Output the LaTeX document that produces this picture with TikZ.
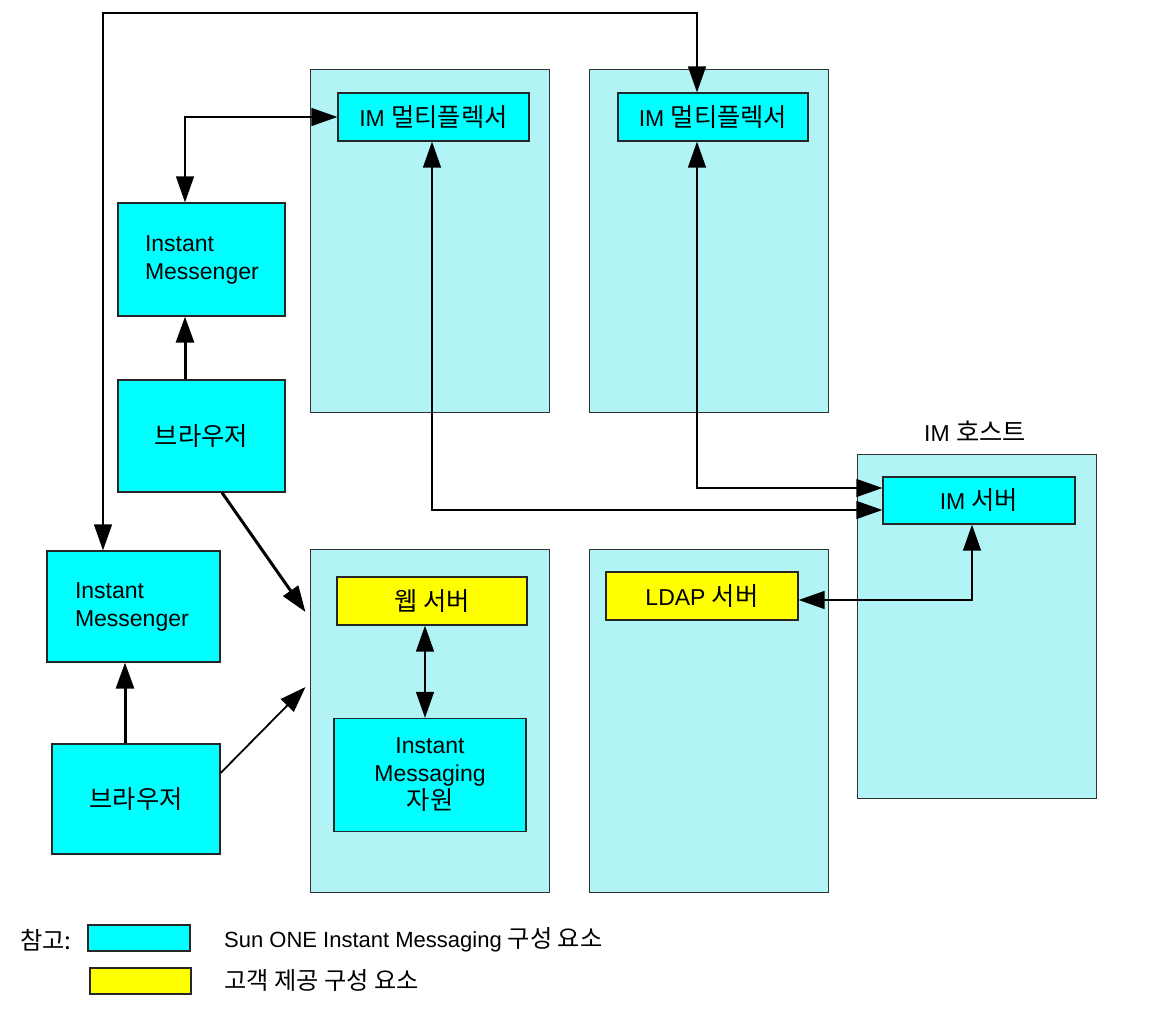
\documentclass[tikz,border=0pt]{standalone}
\usepackage{fontspec}
\setmainfont{Liberation Sans}
\newfontfamily\kr[Scale=1.1]{Noto Sans CJK KR}
\usetikzlibrary{arrows.meta}
\definecolor{contfill}{RGB}{178,244,246}
\definecolor{compcyan}{RGB}{0,255,255}
\definecolor{custyellow}{RGB}{255,255,0}
\begin{document}
\begin{tikzpicture}[x=1pt,y=-1pt,
  every node/.style={font=\fontsize{23}{28}\selectfont},
  cont/.style={draw=black!80, fill=contfill, line width=1pt, inner sep=0pt, minimum width=239pt, minimum height=343pt},
  comp/.style={draw=black!85, fill=compcyan, line width=1.3pt, inner sep=0pt},
  cust/.style={draw=black!85, fill=custyellow, line width=1.3pt, inner sep=0pt},
  conn/.style={line width=1.4pt, {Triangle[length=26pt,width=18pt]}-{Triangle[length=26pt,width=18pt]}},
  heavy/.style={line width=3pt, -{Triangle[length=26pt,width=18pt]}},
  lbl/.style={inner sep=0pt},
  legfont/.style={font=\fontsize{22}{26}\selectfont}
]
\useasboundingbox[fill=white] (0,0) rectangle (1171,1016);

% containers
\node[cont] (c1) at (429.5,241.5) {};
\node[cont] (c2) at (708.5,241.5) {};
\node[cont] (c3) at (429.5,721) {};
\node[cont] (c4) at (708.5,721) {};
\node[cont] (c5) at (977,626.5) {};
\node[lbl] (hostlbl) at (975,431) {IM {\kr 호스트}};

% components
\node[comp, minimum width=191pt, minimum height=48pt] (mux1) at (433.5,117) {IM {\kr 멀티플렉서}};
\node[comp, minimum width=190pt, minimum height=48pt] (mux2) at (713,117) {IM {\kr 멀티플렉서}};
\node[comp, minimum height=113pt, inner xsep=27pt, text width=113pt, align=left] (imt) at (201.5,259.5) {Instant\\Messenger};
\node[comp, minimum width=167pt, minimum height=112pt] (brt) at (201.5,436) {\kr 브라우저};
\node[comp, minimum height=111pt, inner xsep=28pt, text width=117pt, align=left] (imb) at (133.5,606.5) {Instant\\Messenger};
\node[comp, minimum width=168pt, minimum height=110pt] (brb) at (136,799) {\kr 브라우저};
\node[cust, minimum width=190pt, minimum height=48pt] (web) at (432,601) {\kr 웹 서버};
\node[comp, minimum width=192pt, minimum height=113pt, align=center] (res) at (430,775) {Instant\\Messaging\\{\kr 자원}};
\node[comp, minimum width=192pt, minimum height=47pt] (ims) at (979,500.5) {IM {\kr 서버}};
\node[cust, minimum width=192pt, minimum height=48pt] (ldap) at (702,596) {LDAP {\kr 서버}};

% connectors
\coordinate (tl) at (103,13);
\coordinate (tr) at (697,13);
\draw[conn] (imb.north -| tl) -- (tl) -- (tr) -- (tr |- mux2.north);
\draw[conn] ([xshift=-16.5pt]imt.north) |- (mux1.west);
\draw[heavy] ([xshift=-16.5pt]brt.north) -- ([xshift=-16.5pt]imt.south);
\draw[heavy] ([xshift=-11pt]brb.north) -- ([xshift=-11pt]brb.north |- imb.south);
\draw[heavy] ([xshift=20.5pt]brt.south) -- ([xshift=-4pt,yshift=109pt]c3.west);
\draw[line width=1.8pt, -{Triangle[length=26pt,width=18pt]}] ([yshift=26pt]brb.east) -- ([xshift=-4pt,yshift=34pt]c3.west);
\draw[conn] ([xshift=-1.5pt]mux1.south) |- ([yshift=-9.5pt]ims.west);
\draw[conn] ([xshift=-16pt]mux2.south) |- ([yshift=12.5pt]ims.west);
\draw[conn] ([xshift=-7pt]ims.south) |- ([yshift=-4pt]ldap.east);
\draw[conn] ([xshift=-7pt]web.south) -- ([xshift=-7pt]web.south |- res.north);

% legend
\node[lbl, legfont] (note) at (46,940) {\kr 참고:};
\node[comp, minimum width=102pt, minimum height=26pt] (legc) at (139,938) {};
\node[cust, minimum width=101pt, minimum height=26pt] (legy) at (140.5,981) {};
\node[lbl, anchor=west, legfont] (legct) at (224,940) {Sun ONE Instant Messaging {\kr 구성 요소}};
\node[lbl, anchor=west, legfont] (legyt) at (224,980) {\kr 고객 제공 구성 요소};
\end{tikzpicture}
\end{document}
